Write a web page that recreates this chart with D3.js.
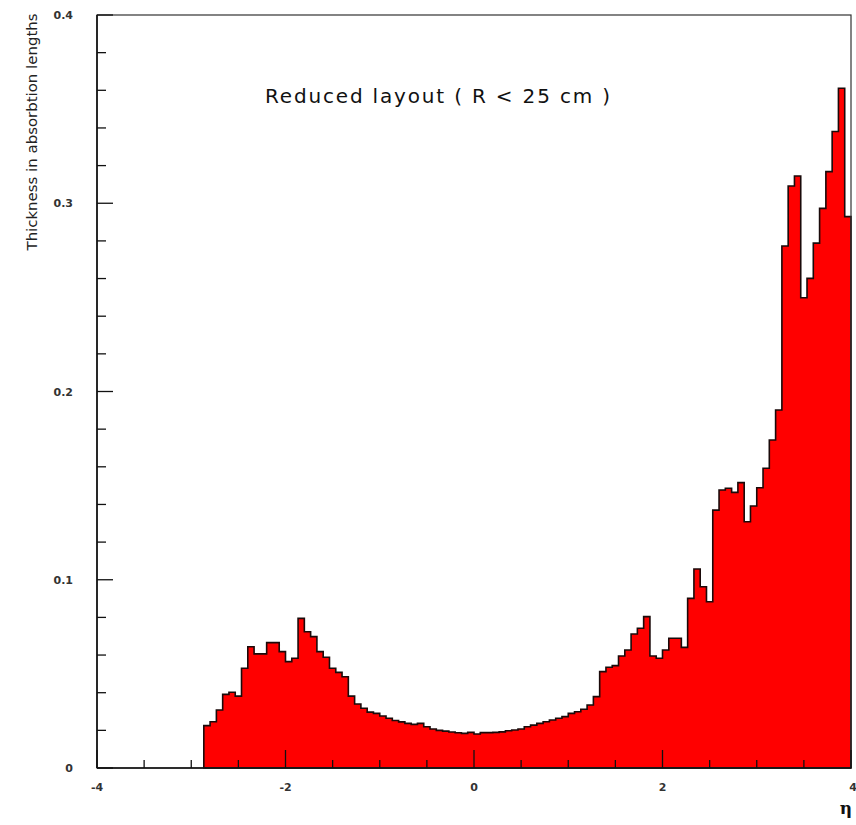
<!DOCTYPE html>
<html>
<head>
<meta charset="utf-8">
<script src="https://cdn.jsdelivr.net/npm/d3@7"></script>
<style>
  html, body { margin: 0; padding: 0; background: #fff; }
  svg { display: block; }
</style>
</head>
<body>
<svg id="chart" width="856" height="825"></svg>
<script>
// ---- data ----
const etaDomain = [-4, 4];
const nBins = 120;          // histogram bins over the eta domain
const firstFilledBin = 17;  // index of the first non-empty bin
const thickness = [
  0.0225, 0.0246, 0.0308, 0.0391, 0.0402, 0.0382, 0.0530, 0.0644, 0.0606, 0.0606,
  0.0666, 0.0666, 0.0618, 0.0565, 0.0583, 0.0795, 0.0724, 0.0698, 0.0618, 0.0588,
  0.0530, 0.0508, 0.0485, 0.0382, 0.0340, 0.0317, 0.0297, 0.0290, 0.0276, 0.0264,
  0.0252, 0.0245, 0.0237, 0.0232, 0.0237, 0.0219, 0.0207, 0.0200, 0.0196, 0.0191,
  0.0187, 0.0184, 0.0189, 0.0181, 0.0188, 0.0188, 0.0189, 0.0192, 0.0198, 0.0202,
  0.0207, 0.0219, 0.0228, 0.0237, 0.0246, 0.0255, 0.0264, 0.0273, 0.0290, 0.0299,
  0.0312, 0.0335, 0.0379, 0.0512, 0.0535, 0.0544, 0.0595, 0.0627, 0.0712, 0.0742,
  0.0804, 0.0595, 0.0583, 0.0627, 0.0689, 0.0689, 0.0641, 0.0901, 0.1057, 0.0963,
  0.0883, 0.1370, 0.1477, 0.1486, 0.1464, 0.1516, 0.1308, 0.1392, 0.1489, 0.1592,
  0.1742, 0.1902, 0.2773, 0.3092, 0.3145, 0.2498, 0.2601, 0.2788, 0.2973, 0.3168,
  0.3381, 0.3611, 0.2929
];
const xMajorTicks = [-4, -2, 0, 2, 4];
const xMajorLabels = ["-4", "-2", "0", "2", "4"];
const xMinorTicks = [-3.5, -3, -2.5, -1.5, -1, -0.5, 0.5, 1, 1.5, 2.5, 3, 3.5];
const yMajorTicks = [0, 0.1, 0.2, 0.3, 0.4];
const yMajorLabels = ["0", "0.1", "0.2", "0.3", "0.4"];
const yMinorTicks = [0.02, 0.04, 0.06, 0.08, 0.12, 0.14, 0.16, 0.18, 0.22, 0.24, 0.26, 0.28, 0.32, 0.34, 0.36, 0.38];
const titleText = "Reduced layout ( R < 25 cm )";
const yTitle = "Thickness in absorbtion lengths";
const xTitle = "\u03B7";

// ---- layout ----
const svg = d3.select("#chart");
const L = 97, R = 851, T = 15, B = 768;
const x = d3.scaleLinear().domain(etaDomain).range([L, R]);
const y = d3.scaleLinear().domain([0, 0.4]).range([B, T]);
const binW = (etaDomain[1] - etaDomain[0]) / nBins;

const bins = thickness.map((v, i) => {
  const k = firstFilledBin + i;
  return { lo: etaDomain[0] + k * binW, hi: etaDomain[0] + (k + 1) * binW, v };
});

// histogram outline
const p = d3.path();
p.moveTo(x(bins[0].lo), y(0));
bins.forEach(b => { p.lineTo(x(b.lo), y(b.v)); p.lineTo(x(b.hi), y(b.v)); });
p.lineTo(x(bins[bins.length - 1].hi), y(0));
p.closePath();

svg.append("path")
  .attr("d", p.toString())
  .attr("fill", "#ff0000")
  .attr("stroke", "#1a0a0a")
  .attr("stroke-width", 1.6)
  .attr("stroke-linejoin", "miter");

// frame
svg.append("rect")
  .attr("x", L).attr("y", T).attr("width", R - L).attr("height", B - T)
  .attr("fill", "none").attr("stroke", "#333").attr("stroke-width", 1.2);
svg.append("line").attr("x1", L).attr("x2", L).attr("y1", T).attr("y2", B)
  .attr("stroke", "#111").attr("stroke-width", 1.6);
svg.append("line").attr("x1", L).attr("x2", R).attr("y1", B).attr("y2", B)
  .attr("stroke", "#111").attr("stroke-width", 1.6);

// x ticks (inward)
const gx = svg.append("g");
gx.selectAll(".xmaj").data(xMajorTicks).enter().append("line")
  .attr("x1", d => x(d)).attr("x2", d => x(d)).attr("y1", B).attr("y2", B - 18)
  .attr("stroke", "#111").attr("stroke-width", 1.3);
gx.selectAll(".xmin").data(xMinorTicks).enter().append("line")
  .attr("x1", d => x(d)).attr("x2", d => x(d)).attr("y1", B).attr("y2", B - 8)
  .attr("stroke", "#111").attr("stroke-width", 1.3);
gx.selectAll(".xlab").data(xMajorTicks).enter().append("text")
  .attr("x", (d, i) => x(d) + (i === 4 ? 2 : 0)).attr("y", 791)
  .attr("text-anchor", "middle")
  .attr("font-family", "DejaVu Sans, sans-serif").attr("font-size", 11)
  .attr("font-weight", "bold").attr("fill", "#333")
  .text((d, i) => xMajorLabels[i]);

// y ticks (inward)
const gy = svg.append("g");
gy.selectAll(".ymaj").data(yMajorTicks).enter().append("line")
  .attr("x1", L).attr("x2", L + 16).attr("y1", d => y(d)).attr("y2", d => y(d))
  .attr("stroke", "#111").attr("stroke-width", 1.3);
gy.selectAll(".ymin").data(yMinorTicks).enter().append("line")
  .attr("x1", L).attr("x2", L + 9).attr("y1", d => y(d)).attr("y2", d => y(d))
  .attr("stroke", "#111").attr("stroke-width", 1.3);
gy.selectAll(".ylab").data(yMajorTicks).enter().append("text")
  .attr("x", 73).attr("y", d => y(d) + 4)
  .attr("text-anchor", "end")
  .attr("font-family", "DejaVu Sans, sans-serif").attr("font-size", 11)
  .attr("font-weight", "bold").attr("fill", "#333")
  .text((d, i) => yMajorLabels[i]);

// titles
svg.append("text")
  .attr("x", 265).attr("y", 103)
  .attr("font-family", "DejaVu Sans, sans-serif").attr("font-size", 20)
  .attr("fill", "#111")
  .attr("textLength", 345).attr("lengthAdjust", "spacing")
  .text(titleText);

svg.append("text")
  .attr("transform", "translate(37,132) rotate(-90)")
  .attr("text-anchor", "middle")
  .attr("font-family", "DejaVu Sans, sans-serif").attr("font-size", 14)
  .attr("fill", "#222")
  .attr("textLength", 237).attr("lengthAdjust", "spacingAndGlyphs")
  .text(yTitle);

svg.append("text")
  .attr("x", 846).attr("y", 814)
  .attr("text-anchor", "middle")
  .attr("font-family", "DejaVu Serif, serif").attr("font-size", 17)
  .attr("font-weight", "bold").attr("fill", "#111")
  .text(xTitle);
</script>
</body>
</html>
